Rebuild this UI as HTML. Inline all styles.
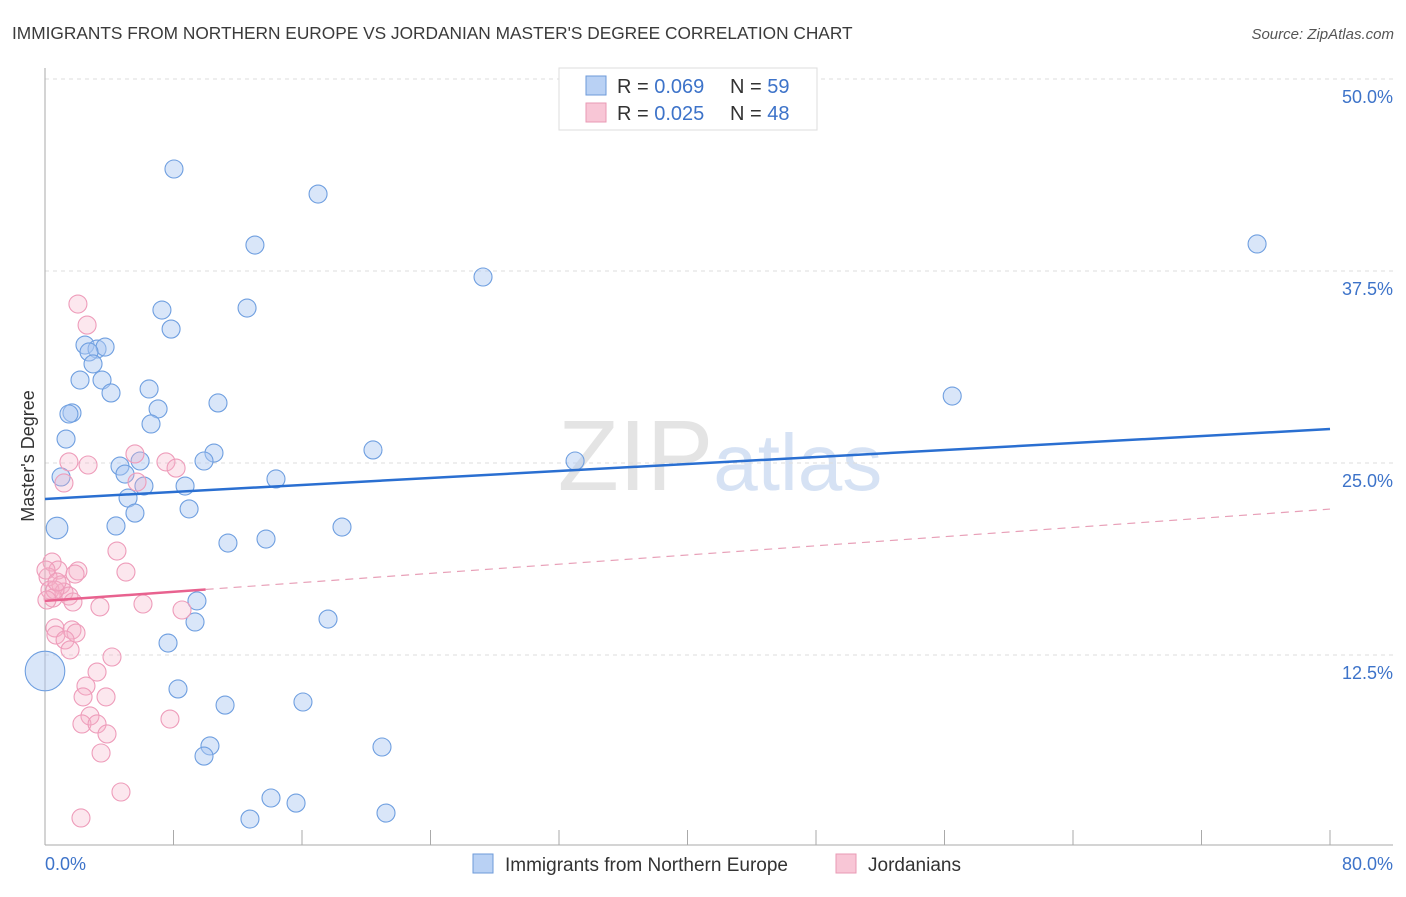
<!DOCTYPE html>
<html><head><meta charset="utf-8"><style>
body{margin:0;background:#fff;font-family:"Liberation Sans",sans-serif;}
svg text{font-family:"Liberation Sans",sans-serif;}
</style></head><body>
<svg id="chart" width="1406" height="892" viewBox="0 0 1406 892" xmlns="http://www.w3.org/2000/svg">
<text x="12" y="39" font-size="17.3" fill="#3a3a3a">IMMIGRANTS FROM NORTHERN EUROPE VS JORDANIAN MASTER'S DEGREE CORRELATION CHART</text>
<text x="1394" y="39" font-size="15" fill="#555" text-anchor="end" font-style="italic">Source: ZipAtlas.com</text>
<text x="720" y="490" font-size="100" text-anchor="middle" fill="#e4e4e4" font-family="Liberation Serif"><tspan>ZIP</tspan><tspan fill="#d6e2f4" font-family="Liberation Sans" font-size="80">atlas</tspan></text>
<g id="grid"></g>
<line x1="45" y1="68" x2="45" y2="845" stroke="#aaa"/>
<line x1="45" y1="845" x2="1393" y2="845" stroke="#aaa"/>
<text transform="translate(34,456) rotate(-90)" font-size="18" fill="#333" text-anchor="middle">Master's Degree</text>
<text x="45" y="870" font-size="18" fill="#3d73c9">0.0%</text>
<text x="1393" y="870" font-size="18" fill="#3d73c9" text-anchor="end">80.0%</text>
<g id="marks"></g>
<g id="lines"></g>
<g>
<rect x="559" y="68" width="258" height="62" fill="#fff" stroke="#ddd"/>
<rect x="586" y="76" width="20" height="19" fill="#b9d1f4" stroke="#6d9ad9"/>
<rect x="586" y="103" width="20" height="19" fill="#f8c6d6" stroke="#e99ab4"/>
<text x="617" y="93" font-size="20" fill="#333">R = <tspan fill="#3d73c9">0.069</tspan></text>
<text x="730" y="93" font-size="20" fill="#333">N = <tspan fill="#3d73c9">59</tspan></text>
<text x="617" y="120" font-size="20" fill="#333">R = <tspan fill="#3d73c9">0.025</tspan></text>
<text x="730" y="120" font-size="20" fill="#333">N = <tspan fill="#3d73c9">48</tspan></text>
</g>
<g>
<rect x="473" y="854" width="20" height="19" fill="#b9d1f4" stroke="#6d9ad9"/>
<text x="505" y="871" font-size="19" fill="#333">Immigrants from Northern Europe</text>
<rect x="836" y="854" width="20" height="19" fill="#f8c6d6" stroke="#e99ab4"/>
<text x="868" y="871" font-size="19" fill="#333">Jordanians</text>
</g>
</svg>
<script>
const yTicks=[12.5,25,37.5,50];
const yTickLabels=["12.5%","25.0%","37.5%","50.0%"];
const xTicks=[0,8,16,24,32,40,48,56,64,72,80];
const blueX=[8.03,17.0,13.07,27.27,75.46,7.28,12.58,7.85,2.49,3.24,3.74,2.74,2.99,2.18,3.55,4.11,6.48,7.04,1.68,1.49,6.60,10.77,1.31,10.52,20.42,9.90,33.0,4.67,4.98,5.92,1.0,14.38,8.72,6.16,5.17,8.97,5.60,4.42,18.49,0.75,11.39,13.76,56.48,9.46,9.34,17.62,7.66,8.28,11.21,16.06,10.27,20.98,9.90,14.07,15.63,12.76,21.23,0];
const blueY=[44.14,42.51,39.19,37.11,39.26,34.96,35.09,33.72,32.68,32.42,32.55,32.23,31.45,30.40,30.40,29.56,29.82,28.52,28.26,28.19,27.54,28.91,26.56,25.65,25.85,25.13,25.13,24.80,24.28,25.13,24.09,23.96,23.50,23.50,22.72,22.01,21.74,20.90,20.83,20.77,19.79,20.05,29.36,16.02,14.65,14.84,13.28,10.29,9.24,9.44,6.58,6.51,5.92,3.19,2.86,1.82,2.21,11.46];
const blueSize=[1,1,1,1,1,1,1,1,1,1,1,1,1,1,1,1,1,1,1,1,1,1,1,1,1,1,1,1,1,1,1,1,1,1,1,1,1,1,1,1.2,1,1,1,1,1,1,1,1,1,1,1,1,1,1,1,1,1,2.2];
const pinkX=[2.05,2.62,5.60,7.53,1.49,2.68,8.16,1.18,5.73,4.48,0.44,0.81,5.04,2.05,1.87,0.19,1.0,0.31,1.18,1.49,0.50,1.74,3.42,8.53,6.10,0.62,1.68,1.93,0.68,1.25,1.56,4.17,3.24,2.55,2.37,3.80,2.80,2.30,3.24,3.86,3.49,7.78,4.73,2.24,0.62,0.12,0.06,0.75];
const pinkY=[35.35,33.98,25.59,25.07,25.07,24.87,24.67,23.70,23.76,19.27,18.55,18.03,17.90,17.97,17.77,17.58,17.06,16.73,16.60,16.34,16.21,15.95,15.63,15.43,15.82,14.26,14.13,13.93,13.80,13.48,12.83,12.37,11.39,10.48,9.77,9.77,8.53,8.01,8.01,7.36,6.12,8.33,3.58,1.89,16.73,16.08,18.03,17.25];
const blueTrend=[22.66,27.21];
const pinkTrend=[16.02,22.0];
const pinkSolidEnd=10;

const NS="http://www.w3.org/2000/svg";
const xs=v=>45+v/80*1285;
const ys=v=>847-v/12.5*192;
function mk(tag,attrs,parent){const e=document.createElementNS(NS,tag);for(const k in attrs)e.setAttribute(k,attrs[k]);parent.appendChild(e);return e;}
const grid=document.getElementById('grid'),marks=document.getElementById('marks'),lines=document.getElementById('lines'),svg=document.getElementById('chart');
yTicks.forEach((t,i)=>{
  const l=mk('line',{x1:45,x2:1393,y1:ys(t),y2:ys(t),stroke:'#ddd','stroke-dasharray':'4,4'},grid);
  
  
  const tx=mk('text',{x:1393,y:ys(t)+24,'font-size':18,fill:'#3d73c9','text-anchor':'end'},svg);
  tx.textContent=yTickLabels[i];
  
  
});
xTicks.forEach(t=>{
  const l=mk('line',{x1:xs(t),x2:xs(t),y1:830,y2:845,stroke:'#aaa'},grid);
  
  
});
blueX.forEach((v,i)=>{
  const c=mk('circle',{cx:xs(v),cy:ys(blueY[i]),r:9*blueSize[i],fill:'rgba(170,200,242,0.45)',stroke:'#6f9fe0','stroke-width':1.1},marks);
  
  
});
pinkX.forEach((v,i)=>{
  const c=mk('circle',{cx:xs(v),cy:ys(pinkY[i]),r:9,fill:'rgba(246,175,200,0.3)',stroke:'#ee9cba','stroke-width':1.1},marks);
  
  
});
const bl=mk('line',{x1:xs(0),y1:ys(blueTrend[0]),x2:xs(80),y2:ys(blueTrend[1]),stroke:'#2a6fd1','stroke-width':2.5},lines);


const pm=pinkTrend[0]+(pinkTrend[1]-pinkTrend[0])*pinkSolidEnd/80;
const pl=mk('line',{x1:xs(0),y1:ys(pinkTrend[0]),x2:xs(pinkSolidEnd),y2:ys(pm),stroke:'#e8628f','stroke-width':2.5},lines);


const pd=mk('line',{x1:xs(pinkSolidEnd),y1:ys(pm),x2:xs(80),y2:ys(pinkTrend[1]),stroke:'#e8a0b8','stroke-width':1.2,'stroke-dasharray':'8,6'},lines);


</script>
</body></html>
